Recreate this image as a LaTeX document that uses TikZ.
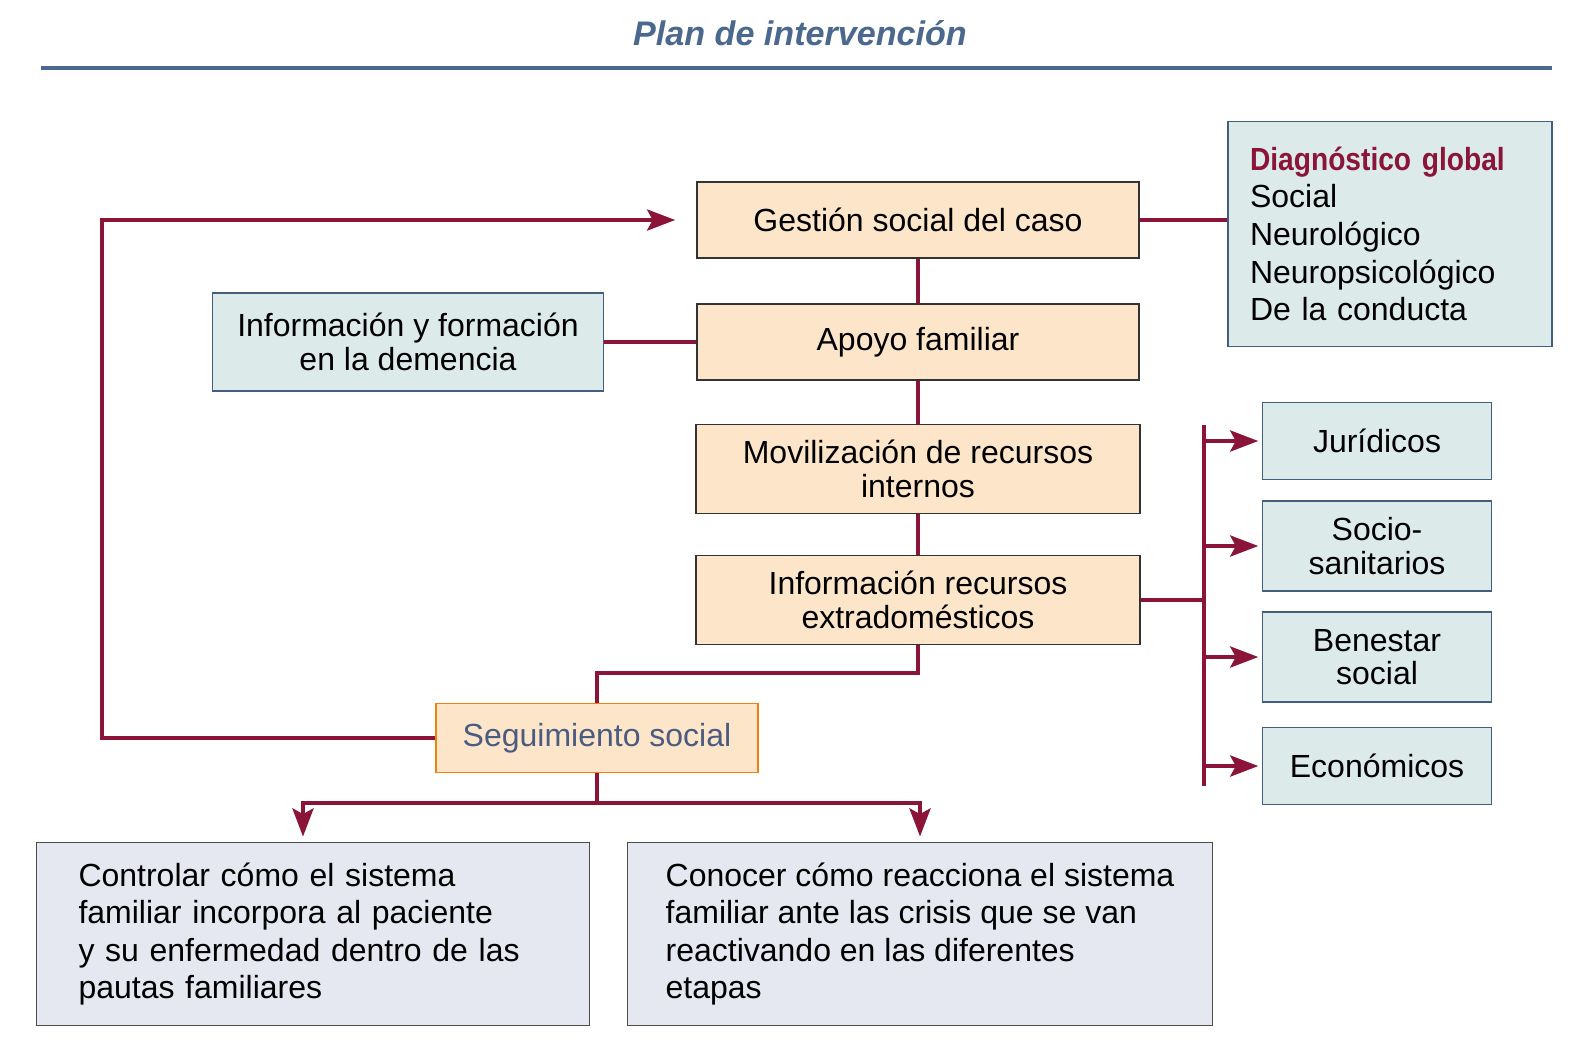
\documentclass[tikz,border=0pt]{standalone}
\usepackage{fontspec}
\setmainfont{Liberation Sans}
\newfontfamily\titlefont{Liberation Sans}
\newfontfamily\diagfont{Liberation Sans}[FakeStretch=0.88]
\usetikzlibrary{arrows.meta,positioning}
\definecolor{conn}{RGB}{139,21,56}
\definecolor{peach}{RGB}{253,229,201}
\definecolor{sage}{RGB}{220,235,234}
\definecolor{lilac}{RGB}{229,232,240}
\definecolor{slate}{RGB}{75,104,142}
\definecolor{seguitext}{RGB}{74,92,128}
\newdimen\px \px=0.01cm

\begin{document}
\begin{tikzpicture}[x=0.01cm,y=-0.01cm,>={Stealth[length=8pt,width=6pt,inset=1.6pt]},
  txt/.style={font=\fontsize{9.1}{9.5}\selectfont,align=center,inner sep=0pt},
  orbox/.style={txt,draw=black!80,line width=0.4pt,fill=peach},
  grbox/.style={txt,draw=slate!90!black,line width=0.4pt,fill=sage},
  libox/.style={txt,font=\fontsize{9.1}{10.7}\selectfont,draw=black!70,line width=0.4pt,fill=lilac,align=left},
  link/.style={draw=conn,line width=1.1pt}]
\useasboundingbox (0,0) rectangle (1583,1041);
% titulo
\node[font=\titlefont\fontsize{9.7}{12}\bfseries\itshape,text=slate] (titulo) at (800,33) {Plan de intervención};
\draw[slate,line width=0.9pt] (41,68) -- (1552,68);
% columna central
\node[orbox,minimum width=442\px,minimum height=76\px] (gestion) at (918,220) {Gestión social del caso};
\node[orbox,minimum width=442\px,minimum height=76\px] (apoyo) at (918,342) {Apoyo familiar};
\node[orbox,minimum width=444\px,minimum height=89\px] (moviliz) at (918,469) {Movilización de recursos\\internos};
\node[orbox,minimum width=444\px,minimum height=89\px] (inforec) at (918,600) {Información recursos\\extradomésticos};
\node[orbox,draw=orange!80!brown,text=seguitext,minimum width=322\px,minimum height=69\px] (seguim) at (597,738) {Seguimiento social};
% cajas laterales
\node[grbox,minimum width=391\px,minimum height=98\px] (formacion) at (408,342) {Información y formación\\en la demencia};
\node[grbox,font=\fontsize{9.1}{10.7}\selectfont,align=left,text width=280\px,inner xsep=22\px,minimum height=225\px] (diag) at (1390,234)
  {{\diagfont\bfseries\color{conn}Diagnóstico global}\\Social\\Neurológico\\Neuropsicológico\\De la conducta};
\node[grbox,minimum width=229\px,minimum height=77\px] (jurid) at (1377,441) {Jurídicos};
\node[grbox,minimum width=229\px,minimum height=90\px] (socio) at (1377,546) {Socio-\\sanitarios};
\node[grbox,minimum width=229\px,minimum height=90\px] (bienestar) at (1377,657) {Benestar\\social};
\node[grbox,minimum width=229\px,minimum height=77\px] (econ) at (1377,766) {Económicos};
% cajas inferiores
\node[libox,text width=469\px,inner xsep=42\px,minimum height=183\px] (controlar) at (313,934)
  {Controlar cómo el sistema\\familiar incorpora al paciente\\y su enfermedad dentro de las\\pautas familiares};
\node[libox,minimum width=585\px,minimum height=183\px] (conocer) at (920,934)
  {Conocer cómo reacciona el sistema\\familiar ante las crisis que se van\\reactivando en las diferentes\\etapas};
% conexiones
\coordinate (loop) at (102,738);
\coordinate (bartop) at (1204,425);
\coordinate (barbot) at (1204,786);
\draw[link] (gestion) -- (apoyo);
\draw[link] (apoyo) -- (moviliz);
\draw[link] (moviliz) -- (inforec);
\draw[link] (formacion.east) -- (formacion.east -| apoyo.west);
\draw[link] (gestion.east) -- (gestion.east -| diag.west);
\draw[link,->,shorten >=6pt] (seguim.west) -- (loop) |- (gestion.west);
\draw[link] (inforec.south) -- ++(0,28) -| (seguim.north);
\draw[link] (inforec.east) -- (inforec.east -| bartop);
\draw[link] (bartop) -- (barbot);
\foreach \caja in {jurid,socio,bienestar,econ}
  \draw[link,->,shorten >=1pt] (bartop |- \caja.west) -- (\caja.west);
\draw[link] (seguim.south) -- ++(0,30) coordinate (fork);
\draw[link,->,shorten >=1.5pt] (fork) -| ([xshift=-10\px]controlar.north);
\draw[link,->,shorten >=1.5pt] (fork) -| (conocer.north);
\end{tikzpicture}
\end{document}
